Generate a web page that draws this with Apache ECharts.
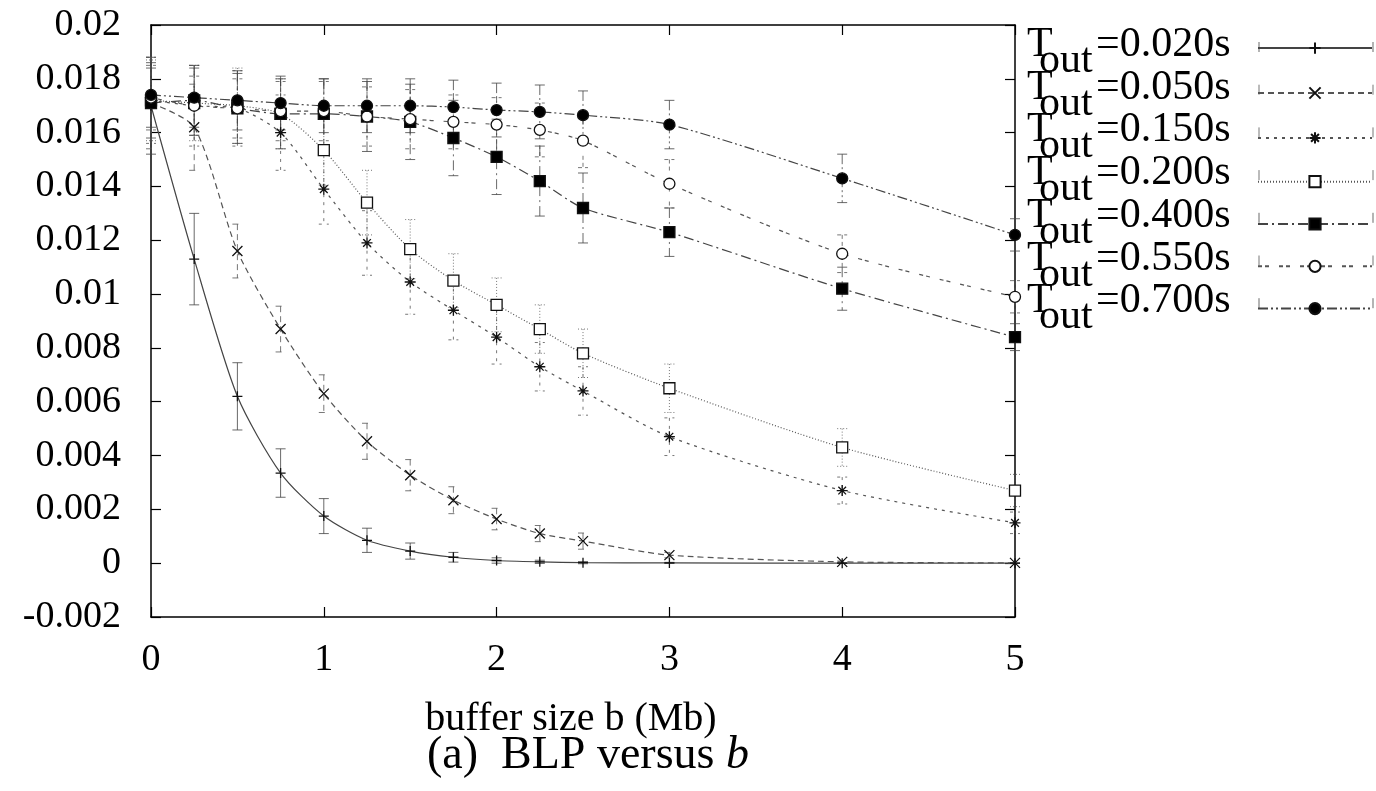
<!DOCTYPE html>
<html>
<head>
<meta charset="utf-8">
<script src="https://cdn.jsdelivr.net/npm/echarts@6/dist/echarts.min.js"></script>
<style>html,body{margin:0;padding:0;background:#fff}#c{width:1376px;height:791px}</style>
</head>
<body>
<div id="c"></div>
<script>
const xs = [0, 0.25, 0.5, 0.75, 1, 1.25, 1.5, 1.75, 2, 2.25, 2.5, 3, 4, 5];
const seriesNames = ['0.020s', '0.050s', '0.150s', '0.200s', '0.400s', '0.550s', '0.700s'];

const v020 = [0.0170, 0.0113, 0.0062, 0.00335, 0.00175, 0.00085, 0.00045, 0.00022, 0.0001, 0.00005, 0.00002, 0.00001, 0, 0];
const e020 = [0.0018, 0.0017, 0.00125, 0.0009, 0.00065, 0.00045, 0.0003, 0.00018, 0.0001, 0.00006, 0.00004, 0.00002, 0.00001, 0.00001];
const v050 = [0.0171, 0.0162, 0.0116, 0.0087, 0.0063, 0.00453, 0.00327, 0.00234, 0.00164, 0.0011, 0.00082, 0.0003, 0.00005, 0.00001];
const e050 = [0.0017, 0.0016, 0.001, 0.00085, 0.0007, 0.00067, 0.00058, 0.0005, 0.0004, 0.0003, 0.0003, 0.0001, 0.00003, 0.00001];
const v150 = [0.0172, 0.0170, 0.0169, 0.0160, 0.0139, 0.0119, 0.01045, 0.0094, 0.0084, 0.0073, 0.0064, 0.0047, 0.0027, 0.0015];
const e150 = [0.0016, 0.0015, 0.0014, 0.0014, 0.0013, 0.0012, 0.0012, 0.0011, 0.001, 0.0009, 0.0009, 0.0007, 0.0005, 0.0004];
const v200 = [0.0172, 0.0171, 0.0170, 0.0167, 0.01535, 0.0134, 0.01167, 0.0105, 0.0096, 0.0087, 0.0078, 0.0065, 0.0043, 0.0027];
const e200 = [0.0015, 0.0014, 0.0014, 0.0013, 0.0013, 0.0012, 0.0011, 0.001, 0.001, 0.0009, 0.0009, 0.0009, 0.0007, 0.0006];
const v400 = [0.0171, 0.0172, 0.0169, 0.0167, 0.0167, 0.0166, 0.0164, 0.0158, 0.0151, 0.0142, 0.0132, 0.0123, 0.0102, 0.0084];
const e400 = [0.0013, 0.0013, 0.0013, 0.0013, 0.0013, 0.0013, 0.0014, 0.0014, 0.0014, 0.0013, 0.0013, 0.0009, 0.0008, 0.0005];
const v550 = [0.0173, 0.0170, 0.0169, 0.0168, 0.0168, 0.0166, 0.0165, 0.0164, 0.0163, 0.0161, 0.0157, 0.0141, 0.0115, 0.0099];
const e550 = [0.0012, 0.0011, 0.0011, 0.0011, 0.0011, 0.0011, 0.0011, 0.001, 0.001, 0.001, 0.001, 0.0009, 0.0007, 0.0006];
const v700 = [0.0174, 0.0173, 0.0172, 0.0171, 0.0170, 0.0170, 0.0170, 0.01695, 0.01684, 0.01677, 0.01665, 0.0163, 0.0143, 0.0122];
const e700 = [0.0012, 0.0011, 0.0011, 0.001, 0.001, 0.001, 0.001, 0.001, 0.001, 0.001, 0.0009, 0.0009, 0.0009, 0.0006];

const xTicks = [0, 1, 2, 3, 4, 5];
const xAxisTitle = 'buffer size b (Mb)';
const captionText = '(a)  BLP versus ';
const captionItalic = 'b';
const legendMain = 'T';
const legendSub = 'out';

const values = [v020, v050, v150, v200, v400, v550, v700];
const errors = [e020, e050, e150, e200, e400, e550, e700];

const FONT = '"Liberation Serif", "DejaVu Serif", serif';
const styles = [
  {dash: 'solid', color: '#444', symbol: 'path://M0,5L10,5M5,0L5,10', fill: 'none', size: 10},
  {dash: [6, 4], color: '#555', symbol: 'path://M0,0L10,10M0,10L10,0', fill: 'none', size: 10},
  {dash: [3, 5], color: '#555', symbol: 'path://M0,5L10,5M5,0L5,10M1.5,1.5L8.5,8.5M1.5,8.5L8.5,1.5', fill: 'none', size: 11},
  {dash: [1, 2], color: '#555', symbol: 'rect', fill: '#fff', size: 11},
  {dash: [10, 4, 2, 4], color: '#444', symbol: 'rect', fill: '#000', size: 11},
  {dash: [4, 3, 4, 10], color: '#555', symbol: 'circle', fill: '#fff', size: 11},
  {dash: [10, 3, 2, 3, 2, 3], color: '#444', symbol: 'circle', fill: '#000', size: 11}
];

function errRender(idx) {
  const st = styles[idx];
  return function (params, api) {
    const x = api.value(0), lo = api.value(1), hi = api.value(2);
    const p1 = api.coord([x, hi]);
    const p2 = api.coord([x, lo]);
    const w = 5;
    const s = {stroke: st.color, lineWidth: 1, lineDash: st.dash === 'solid' ? null : st.dash, opacity: 0.8};
    return {
      type: 'group',
      children: [
        {type: 'line', shape: {x1: p1[0], y1: p1[1], x2: p2[0], y2: p2[1]}, style: s},
        {type: 'line', shape: {x1: p1[0] - w, y1: p1[1], x2: p1[0] + w, y2: p1[1]}, style: s},
        {type: 'line', shape: {x1: p2[0] - w, y1: p2[1], x2: p2[0] + w, y2: p2[1]}, style: s}
      ]
    };
  };
}

const series = [];
values.forEach((vals, i) => {
  series.push({
    type: 'custom',
    name: seriesNames[i] + '_err',
    renderItem: errRender(i),
    data: xs.map((x, k) => [x, vals[k] - errors[i][k], vals[k] + errors[i][k]]),
    encode: {x: 0, y: [1, 2]},
    silent: true,
    z: 1
  });
});
values.forEach((vals, i) => {
  const st = styles[i];
  series.push({
    type: 'line',
    name: seriesNames[i],
    data: xs.map((x, k) => [x, vals[k]]),
    smooth: 0.25,
    symbol: st.symbol,
    symbolSize: st.size,
    showAllSymbol: true,
    lineStyle: {color: st.color, width: 1.2, type: st.dash},
    itemStyle: {color: st.fill, borderColor: '#111', borderWidth: 1.3},
    emphasis: {disabled: true},
    animation: false,
    z: 3
  });
});

// legend labels (T with subscript "out") as text elements, one row per legend entry
const LEG_Y0 = 47, LEG_PITCH = 42.7, LEG_FS = 42;
const LEG_ICON_L = 1259, LEG_ICON_R = 1373;
const legendTexts = [];
seriesNames.forEach((nm, i) => {
  const yc = LEG_Y0 + LEG_PITCH * i;
  const base = {fontFamily: FONT, fontSize: LEG_FS, fill: '#000', verticalAlign: 'middle', align: 'left'};
  legendTexts.push({type: 'text', x: 1027, y: yc - 2, style: Object.assign({text: legendMain}, base), silent: true});
  legendTexts.push({type: 'text', x: 1039, y: yc + 14, style: Object.assign({text: legendSub}, base), silent: true});
  legendTexts.push({type: 'text', x: 1096, y: yc - 2, style: Object.assign({text: '=' + nm}, base), silent: true});
  [LEG_ICON_L, LEG_ICON_R].forEach(xc => {
    legendTexts.push({type: 'line', shape: {x1: xc, y1: yc - 5, x2: xc, y2: yc + 5},
      style: {stroke: styles[i].color, lineWidth: 1, opacity: 0.8}, silent: true});
  });
});

const chart = echarts.init(document.getElementById('c'), null, {renderer: 'canvas'});
const axisLineStyle = {color: '#000', width: 1.5};
const tickStyle = {show: true, inside: true, length: 10, lineStyle: {color: '#000', width: 1.2}};
chart.setOption({
  animation: false,
  backgroundColor: '#fff',
  textStyle: {fontFamily: FONT},
  grid: {left: 151, right: 361, top: 25, bottom: 174, containLabel: false},
  title: {
    text: captionText + '{i|' + captionItalic + '}',
    left: 583, top: 728, textAlign: 'center',
    textStyle: {fontFamily: FONT, fontSize: 46, fontWeight: 'normal', color: '#000',
      rich: {i: {fontFamily: FONT, fontSize: 46, fontStyle: 'italic', color: '#000'}}}
  },
  legend: {
    orient: 'vertical',
    right: 3, top: LEG_Y0 - 7,
    padding: 0,
    align: 'right',
    itemWidth: LEG_ICON_R - LEG_ICON_L, itemHeight: 14,
    itemGap: LEG_PITCH - 14,
    selectedMode: false,
    data: seriesNames,
    formatter: () => '',
    textStyle: {fontSize: 1}
  },
  graphic: legendTexts,
  xAxis: [{
    type: 'value', min: 0, max: 5, interval: 1,
    name: xAxisTitle, nameLocation: 'middle', nameGap: 82,
    nameTextStyle: {fontFamily: FONT, fontSize: 40, color: '#000', padding: [0, 24, 0, 0]},
    axisLine: {show: true, onZero: false, lineStyle: axisLineStyle},
    axisTick: tickStyle,
    axisLabel: {fontFamily: FONT, fontSize: 38, color: '#000', margin: 24, customValues: xTicks},
    splitLine: {show: false}
  }, {
    type: 'value', min: 0, max: 5, interval: 1, position: 'top',
    axisLine: {show: true, onZero: false, lineStyle: axisLineStyle},
    axisTick: tickStyle,
    axisLabel: {show: false}, splitLine: {show: false}
  }],
  yAxis: [{
    type: 'value', min: -0.002, max: 0.02, interval: 0.002,
    axisLine: {show: true, onZero: false, lineStyle: axisLineStyle},
    axisTick: tickStyle,
    axisLabel: {fontFamily: FONT, fontSize: 38, color: '#000', margin: 30,
      formatter: v => String(parseFloat(v.toFixed(4)))},
    splitLine: {show: false}
  }, {
    type: 'value', min: -0.002, max: 0.02, interval: 0.002, position: 'right',
    axisLine: {show: true, onZero: false, lineStyle: axisLineStyle},
    axisTick: tickStyle,
    axisLabel: {show: false}, splitLine: {show: false}
  }],
  series: series
});
</script>
</body>
</html>
